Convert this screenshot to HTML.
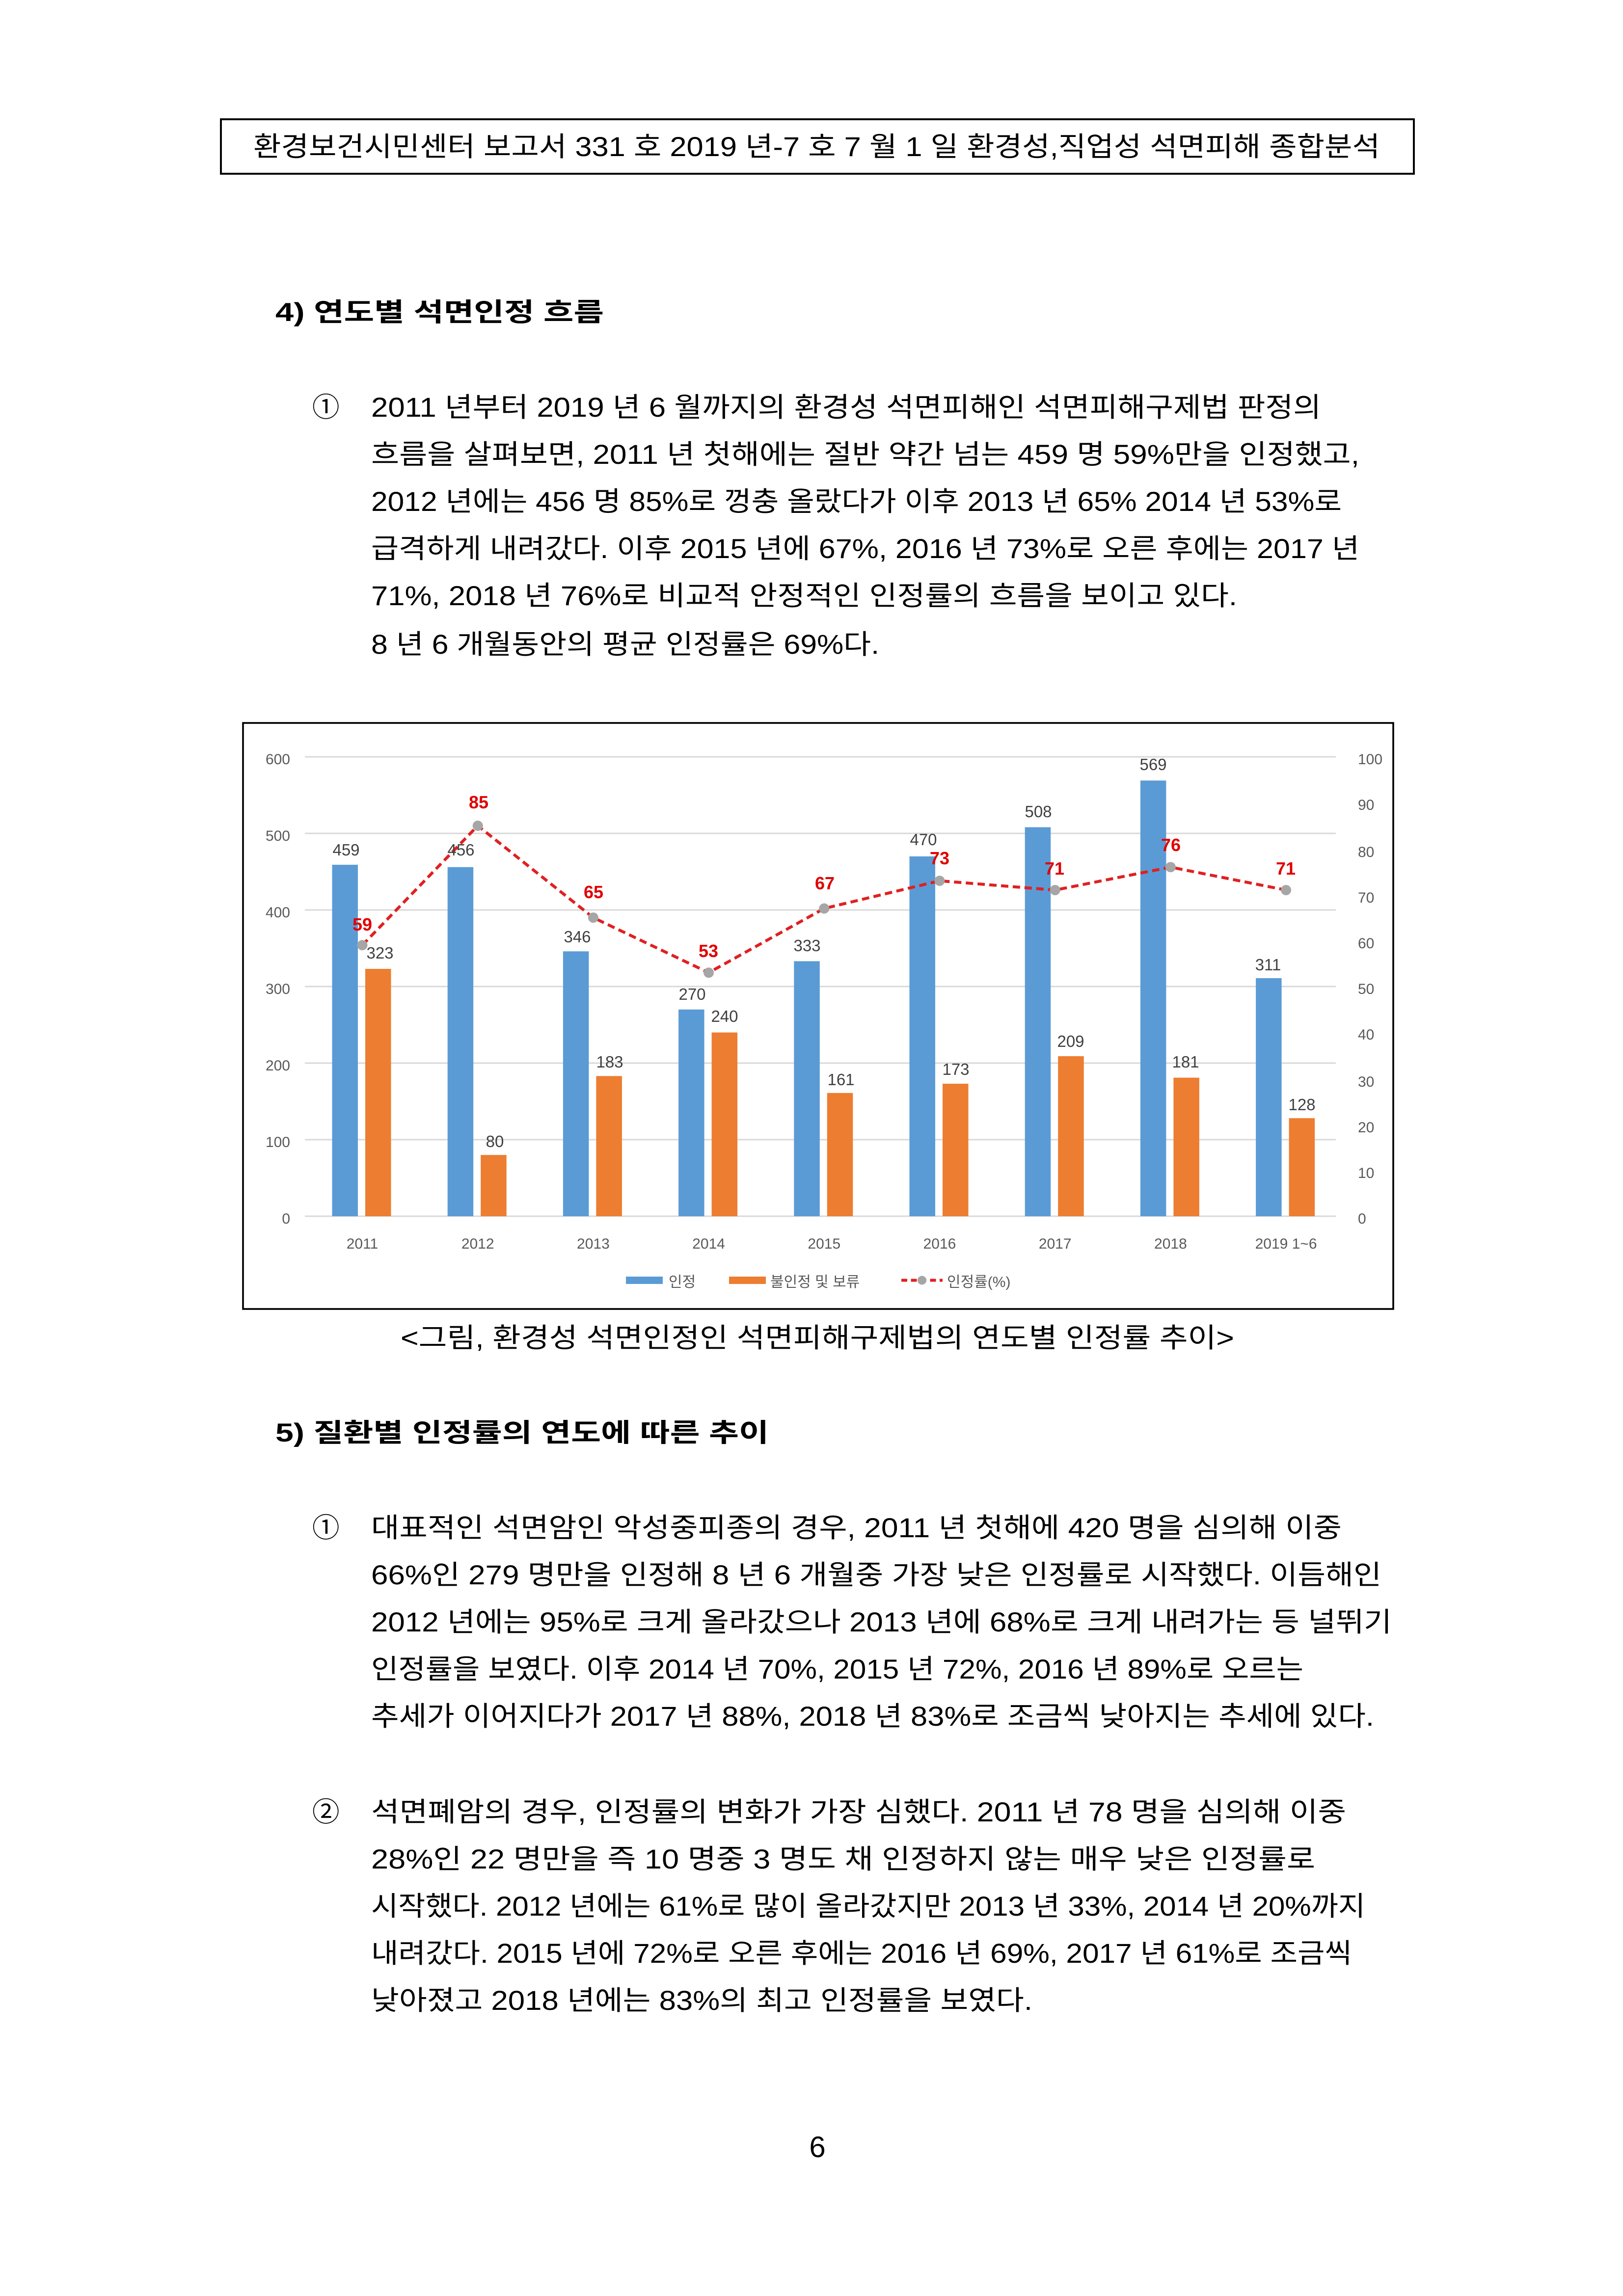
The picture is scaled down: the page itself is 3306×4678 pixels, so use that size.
<!DOCTYPE html>
<html><head><meta charset="utf-8"><style>
html,body{margin:0;padding:0;background:#fff;}
svg{display:block}
.b{font-family:"Liberation Sans","Noto Sans CJK KR",sans-serif;fill:#000;font-size:18.5px}
.h{font-family:"Liberation Sans","Noto Sans CJK KR",sans-serif;fill:#000;font-size:17.5px;font-weight:bold}
.ax{font-family:"Liberation Sans","Noto Sans CJK KR",sans-serif;fill:#595959;font-size:10px}
.v{font-family:"Liberation Sans","Noto Sans CJK KR",sans-serif;fill:#404040;font-size:11px;text-anchor:middle}
.r{font-family:"Liberation Sans","Noto Sans CJK KR",sans-serif;fill:#e00000;font-size:12px;font-weight:bold;text-anchor:middle}
</style></head><body>
<svg width="3306" height="4678" viewBox="0 0 1102 1559.33" xmlns="http://www.w3.org/2000/svg">
<rect x="0" y="0" width="1102" height="1560" fill="#fff"/>
<rect x="150" y="81" width="810" height="37" fill="none" stroke="#000" stroke-width="1.3"/>
<text class="b" x="172" y="106" textLength="765" lengthAdjust="spacingAndGlyphs">환경보건시민센터 보고서 331 호 2019 년-7 호 7 월 1 일 환경성,직업성 석면피해 종합분석</text>

<text class="h" x="187" y="218" textLength="223" lengthAdjust="spacingAndGlyphs">4)   연도별 석면인정 흐름</text>

<text class="b" x="212" y="283">①</text>
<text class="b" x="252" y="283" textLength="645" lengthAdjust="spacingAndGlyphs">2011 년부터 2019 년 6 월까지의 환경성 석면피해인 석면피해구제법 판정의</text>
<text class="b" x="252" y="315" textLength="671" lengthAdjust="spacingAndGlyphs">흐름을 살펴보면, 2011 년 첫해에는 절반 약간 넘는 459 명 59%만을 인정했고,</text>
<text class="b" x="252" y="347" textLength="659" lengthAdjust="spacingAndGlyphs">2012 년에는 456 명 85%로 껑충 올랐다가 이후 2013 년 65% 2014 년 53%로</text>
<text class="b" x="252" y="379" textLength="671" lengthAdjust="spacingAndGlyphs">급격하게 내려갔다. 이후 2015 년에 67%, 2016 년 73%로 오른 후에는 2017 년</text>
<text class="b" x="252" y="411" textLength="588" lengthAdjust="spacingAndGlyphs">71%, 2018 년 76%로 비교적 안정적인 인정률의 흐름을 보이고 있다.</text>
<text class="b" x="252" y="444" textLength="345" lengthAdjust="spacingAndGlyphs">8 년 6 개월동안의 평균 인정률은 69%다.</text>

<!-- chart -->
<rect x="165" y="491" width="781" height="398" fill="#fff" stroke="#000" stroke-width="1.2"/>
<g stroke="#d9d9d9" stroke-width="1">
<line x1="207" y1="514" x2="907" y2="514"/>
<line x1="207" y1="566" x2="907" y2="566"/>
<line x1="207" y1="618" x2="907" y2="618"/>
<line x1="207" y1="670" x2="907" y2="670"/>
<line x1="207" y1="722" x2="907" y2="722"/>
<line x1="207" y1="774" x2="907" y2="774"/>
<line x1="207" y1="826" x2="907" y2="826"/>
</g>
<g class="ax" text-anchor="end">
<text x="197" y="519">600</text><text x="197" y="571">500</text><text x="197" y="623">400</text>
<text x="197" y="675">300</text><text x="197" y="727">200</text><text x="197" y="779">100</text><text x="197" y="831">0</text>
</g>
<g class="ax" text-anchor="start">
<text x="922" y="519">100</text><text x="922" y="550">90</text><text x="922" y="582">80</text>
<text x="922" y="613">70</text><text x="922" y="644">60</text><text x="922" y="675">50</text>
<text x="922" y="706">40</text><text x="922" y="738">30</text><text x="922" y="769">20</text>
<text x="922" y="800">10</text><text x="922" y="831">0</text>
</g>
<g class="ax" text-anchor="middle">
<text x="246" y="848">2011</text><text x="324.4" y="848">2012</text><text x="402.8" y="848">2013</text>
<text x="481.2" y="848">2014</text><text x="559.6" y="848">2015</text><text x="638" y="848">2016</text>
<text x="716.4" y="848">2017</text><text x="794.8" y="848">2018</text><text x="873.2" y="848">2019 1~6</text>
</g>
<g fill="#5b9bd5">
<rect x="225.5" y="587.3" width="17.5" height="238.7"/>
<rect x="303.9" y="588.9" width="17.5" height="237.1"/>
<rect x="382.3" y="646.1" width="17.5" height="179.9"/>
<rect x="460.7" y="685.6" width="17.5" height="140.4"/>
<rect x="539.1" y="652.8" width="17.5" height="173.2"/>
<rect x="617.5" y="581.6" width="17.5" height="244.4"/>
<rect x="695.9" y="561.8" width="17.5" height="264.2"/>
<rect x="774.3" y="530.1" width="17.5" height="295.9"/>
<rect x="852.7" y="664.3" width="17.5" height="161.7"/>
</g>
<g fill="#ed7d31">
<rect x="248" y="658" width="17.5" height="168"/>
<rect x="326.4" y="784.4" width="17.5" height="41.6"/>
<rect x="404.8" y="730.8" width="17.5" height="95.2"/>
<rect x="483.2" y="701.2" width="17.5" height="124.8"/>
<rect x="561.6" y="742.3" width="17.5" height="83.7"/>
<rect x="640" y="736" width="17.5" height="90"/>
<rect x="718.4" y="717.3" width="17.5" height="108.7"/>
<rect x="796.8" y="731.9" width="17.5" height="94.1"/>
<rect x="875.2" y="759.4" width="17.5" height="66.6"/>
</g>
<polyline points="246,641.9 324.4,560.8 402.8,623.2 481.2,660.6 559.6,617 638,598.2 716.4,604.5 794.8,588.9 873.2,604.5" fill="none" stroke="#e02020" stroke-width="2" stroke-dasharray="5,3"/>
<g fill="#a6a6a6">
<circle cx="246" cy="641.9" r="3.5"/><circle cx="324.4" cy="560.8" r="3.5"/><circle cx="402.8" cy="623.2" r="3.5"/>
<circle cx="481.2" cy="660.6" r="3.5"/><circle cx="559.6" cy="617" r="3.5"/><circle cx="638" cy="598.2" r="3.5"/>
<circle cx="716.4" cy="604.5" r="3.5"/><circle cx="794.8" cy="588.9" r="3.5"/><circle cx="873.2" cy="604.5" r="3.5"/>
</g>
<g class="v">
<text x="235" y="581">459</text><text x="313" y="581">456</text><text x="392" y="640">346</text>
<text x="470" y="679">270</text><text x="548" y="646">333</text><text x="627" y="574">470</text>
<text x="705" y="555">508</text><text x="783" y="523">569</text><text x="861" y="659">311</text>
<text x="258" y="651">323</text><text x="336" y="779">80</text><text x="414" y="725">183</text>
<text x="492" y="694">240</text><text x="571" y="737">161</text><text x="649" y="730">173</text>
<text x="727" y="711">209</text><text x="805" y="725">181</text><text x="884" y="754">128</text>
</g>
<g class="r">
<text x="246" y="632">59</text><text x="325" y="549">85</text><text x="403" y="610">65</text>
<text x="481" y="650">53</text><text x="560" y="604">67</text><text x="638" y="587">73</text>
<text x="716" y="594">71</text><text x="795" y="578">76</text><text x="873" y="594">71</text>
</g>
<rect x="425" y="867" width="25" height="5" fill="#5b9bd5"/>
<text class="ax" x="454" y="874">인정</text>
<rect x="495" y="867" width="25" height="5" fill="#ed7d31"/>
<text class="ax" x="523" y="874">불인정 및 보류</text>
<line x1="612" y1="869.5" x2="640" y2="869.5" stroke="#e02020" stroke-width="2" stroke-dasharray="4,2.5"/>
<circle cx="626" cy="869.5" r="3" fill="#a6a6a6"/>
<text class="ax" x="643" y="874">인정률(%)</text>

<text class="b" x="272" y="915" textLength="566" lengthAdjust="spacingAndGlyphs">&lt;그림, 환경성 석면인정인 석면피해구제법의 연도별 인정률 추이&gt;</text>

<text class="h" x="187" y="979" textLength="335" lengthAdjust="spacingAndGlyphs">5)   질환별 인정률의 연도에 따른 추이</text>

<text class="b" x="212" y="1044">①</text>
<text class="b" x="252" y="1044" textLength="659" lengthAdjust="spacingAndGlyphs">대표적인 석면암인 악성중피종의 경우, 2011 년 첫해에 420 명을 심의해 이중</text>
<text class="b" x="252" y="1076" textLength="686" lengthAdjust="spacingAndGlyphs">66%인 279 명만을 인정해 8 년 6 개월중 가장 낮은 인정률로 시작했다. 이듬해인</text>
<text class="b" x="252" y="1108" textLength="693" lengthAdjust="spacingAndGlyphs">2012 년에는 95%로 크게 올라갔으나 2013 년에 68%로 크게 내려가는 등 널뛰기</text>
<text class="b" x="252" y="1140" textLength="633" lengthAdjust="spacingAndGlyphs">인정률을 보였다. 이후 2014 년 70%, 2015 년 72%, 2016 년 89%로 오르는</text>
<text class="b" x="252" y="1172" textLength="681" lengthAdjust="spacingAndGlyphs">추세가 이어지다가 2017 년 88%, 2018 년 83%로 조금씩 낮아지는 추세에 있다.</text>

<text class="b" x="212" y="1237">②</text>
<text class="b" x="252" y="1237" textLength="662" lengthAdjust="spacingAndGlyphs">석면폐암의 경우, 인정률의 변화가 가장 심했다. 2011 년 78 명을 심의해 이중</text>
<text class="b" x="252" y="1269" textLength="641" lengthAdjust="spacingAndGlyphs">28%인 22 명만을 즉 10 명중 3 명도 채 인정하지 않는 매우 낮은 인정률로</text>
<text class="b" x="252" y="1301" textLength="675" lengthAdjust="spacingAndGlyphs">시작했다. 2012 년에는 61%로 많이 올라갔지만 2013 년 33%, 2014 년 20%까지</text>
<text class="b" x="252" y="1333" textLength="666" lengthAdjust="spacingAndGlyphs">내려갔다. 2015 년에 72%로 오른 후에는 2016 년 69%, 2017 년 61%로 조금씩</text>
<text class="b" x="252" y="1365" textLength="449" lengthAdjust="spacingAndGlyphs">낮아졌고 2018 년에는 83%의 최고 인정률을 보였다.</text>

<text class="b" x="555" y="1465" text-anchor="middle" style="font-size:20px">6</text>
</svg>
</body></html>
